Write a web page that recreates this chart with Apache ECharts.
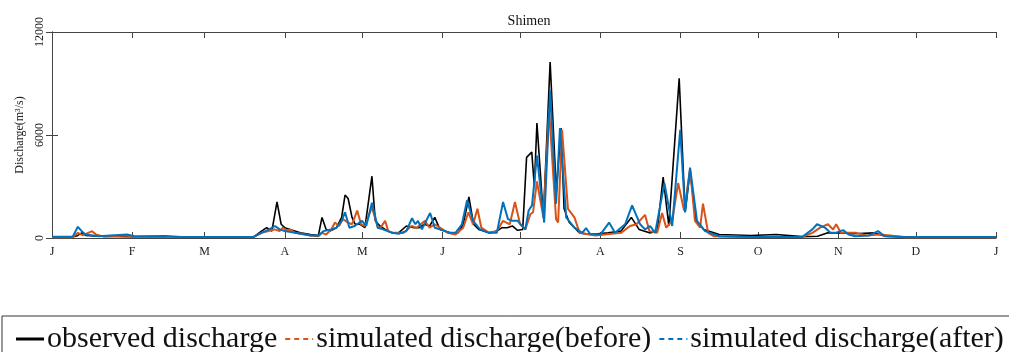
<!DOCTYPE html>
<html>
<head>
<meta charset="utf-8">
<script src="https://cdn.jsdelivr.net/npm/echarts@6/dist/echarts.min.js"></script>
<style>
    html, body { margin: 0; padding: 0; background: #fff; }
    #chart { width: 1009px; height: 352px; }
</style>
</head>
<body>
<div id="chart"></div>
<script>
    // month starts (day of year) and their labels
    var monthDays = [0, 31, 59, 90, 120, 151, 181, 212, 243, 273, 304, 334, 365];
    var monthLabels = ['J', 'F', 'M', 'A', 'M', 'J', 'J', 'A', 'S', 'O', 'N', 'D', 'J'];
    var yTicks = [0, 6000, 12000];

    // [day, discharge]
    var observed = [[0,60],[8,60],[10,150],[11.5,300],[13,150],[18,100],[30,80],[60,60],[78,70],[81,400],[83,600],[85,400],[87,2100],[88.6,800],[90,600],[92,500],[96,300],[100,200],[103,150],[104.4,1200],[106,500],[107.5,400],[110,600],[112,1200],[113.3,2500],[114.5,2300],[116,1200],[117.2,800],[119.1,800],[121,600],[123.7,3600],[125,1000],[126.8,700],[128.8,500],[131.5,300],[134,300],[137,700],[140,600],[142,600],[144,800],[146,700],[148,1200],[150,500],[154,300],[157,300],[159,800],[161.2,2400],[163,800],[165,500],[169,300],[172,400],[174,600],[176,600],[178,700],[180,450],[182,500],[183.5,4700],[185.5,5000],[186.5,3000],[187.5,6700],[190,1200],[192.6,10250],[195,2700],[196.8,6400],[198,1700],[200,900],[204,300],[208,200],[215,300],[220,400],[224,1200],[227,500],[231,300],[234,400],[236.3,3550],[238.5,700],[242.5,9300],[244.8,1500],[246.7,3900],[249,1000],[252,500],[258,200],[270,150],[280,200],[290,80],[296,100],[300,300],[305,300],[310,250],[318,300],[322,100],[330,60],[365,60]];

    var simBefore = [[0,50],[8,50],[10,300],[12,150],[14,300],[15.5,400],[17,200],[20,80],[29,150],[31,80],[45,60],[78,60],[81,300],[86,500],[88,400],[89.3,600],[91,400],[92,500],[94,300],[100,150],[103,100],[104.4,300],[106,200],[108,500],[109.4,900],[111,700],[112.5,1100],[114.5,900],[116,800],[118,1600],[119.5,800],[121,700],[123.7,1800],[126,600],[127,600],[128.8,1000],[130,400],[132,300],[136,300],[139,700],[141,600],[144.2,1000],[146,600],[148,800],[150,600],[153,300],[156,200],[159,600],[161,1500],[162.8,800],[164.5,1700],[166,600],[169,300],[172,400],[174.4,1000],[177,800],[179,2100],[181,800],[183,500],[185,1400],[186,1500],[187.5,3300],[190,1200],[192.2,7500],[194.9,1100],[195.7,900],[197.2,6300],[199.5,1700],[202,1200],[204,300],[210,150],[220,300],[223.5,700],[226,800],[229.3,1350],[231,400],[234,300],[235.9,1450],[237.5,600],[239.8,1000],[242.1,3200],[244.4,1600],[246.7,4000],[248.6,1000],[250.6,600],[251.7,2000],[253.7,300],[256,100],[270,60],[290,60],[294,300],[297,600],[300,800],[302,500],[303.2,800],[305,300],[308,300],[311,300],[315,150],[320,200],[324,150],[330,50],[365,50]];

    var simAfter = [[0,80],[8,80],[10,650],[11.5,400],[13,200],[18,100],[29,200],[32,100],[44,120],[50,60],[78,60],[81,300],[84,500],[86.2,700],[88,500],[90,400],[94,300],[100,150],[103,150],[105,400],[108,500],[110,600],[112,1000],[113.3,1500],[115,600],[117,700],[119.9,1000],[121.5,700],[123.7,2050],[126,600],[128,500],[131.5,300],[134,250],[137,400],[139.2,1150],[140.5,800],[141.5,1000],[143,500],[146.2,1460],[148,600],[150,500],[154,300],[156,300],[158.5,800],[160.5,2200],[162.8,1000],[165.5,500],[169,300],[172,300],[174.4,2100],[176.3,1100],[178,1000],[180,1000],[183,500],[184.3,1600],[185.6,1900],[187.5,4800],[190.3,900],[192.6,8600],[194.9,2000],[196.4,6400],[198.8,1200],[202,600],[205,300],[206.5,580],[208,250],[212,200],[215.4,900],[217.7,300],[221.6,800],[224.3,1900],[227.4,800],[229.3,500],[231.3,700],[233.2,300],[236.8,3200],[239.8,700],[242.9,6300],[244.8,1500],[246.7,4100],[249.4,1000],[252.5,400],[258,100],[270,60],[290,60],[294,500],[295.8,800],[298.9,600],[301,300],[303,300],[305.9,460],[308,200],[310.5,100],[316,150],[319.4,400],[322,100],[330,60],[365,60]];

    var serif = '"Liberation Serif", "DejaVu Serif", serif';
    var axisColor = '#444';
    var solidIcon = 'path://M0,0h28v3h-28z';
    var dashIcon = 'path://M0,0h5v2h-5zM9,0h5v2h-5zM18,0h5v2h-5zM27,0h1v2h-1z';

    var chart = echarts.init(document.getElementById('chart'));

    function xAxisDef(pos) {
        return {
            type: 'value',
            position: pos,
            min: 0,
            max: 365,
            axisLine: { show: true, onZero: false, lineStyle: { color: axisColor, width: 1 } },
            axisTick: { show: true, inside: true, length: 6, customValues: monthDays, lineStyle: { color: axisColor } },
            axisLabel: {
                show: pos === 'bottom',
                customValues: monthDays,
                margin: 8,
                color: '#222',
                fontFamily: serif,
                fontSize: 12,
                formatter: function (v) {
                    var i = monthDays.indexOf(v);
                    return i >= 0 ? monthLabels[i] : '';
                }
            },
            splitLine: { show: false }
        };
    }

    function yAxisDef(pos) {
        return {
            type: 'value',
            position: pos,
            min: 0,
            max: 12000,
            interval: 6000,
            name: pos === 'left' ? 'Discharge(m³/s)' : '',
            nameLocation: 'middle',
            nameGap: 25,
            nameRotate: 90,
            nameTextStyle: { color: '#222', fontFamily: serif, fontSize: 12 },
            axisLine: { show: true, lineStyle: { color: axisColor, width: 1 } },
            axisTick: { show: true, inside: true, length: 6, lineStyle: { color: axisColor } },
            axisLabel: {
                show: pos === 'left',
                rotate: 90,
                margin: 6,
                color: '#222',
                fontFamily: serif,
                fontSize: 12,
                formatter: function (v) { return String(v); }
            },
            splitLine: { show: false }
        };
    }

    var option = {
        backgroundColor: '#fff',
        animation: false,
        title: {
            text: 'Shimen',
            left: 524,
            top: 9,
            textAlign: 'center',
            textStyle: { fontFamily: serif, fontSize: 14, fontWeight: 'normal', color: '#111' }
        },
        grid: { left: 52, right: 13, top: 32, bottom: 114 },
        xAxis: [xAxisDef('bottom'), xAxisDef('top')],
        yAxis: [yAxisDef('left'), yAxisDef('right')],
        legend: {
            left: 2,
            top: 316,
            width: 1400,
            orient: 'horizontal',
            padding: [8, 6, 6, 14],
            itemGap: 8,
            itemWidth: 28,
            itemHeight: 14,
            borderColor: '#333',
            borderWidth: 1,
            textStyle: { fontFamily: serif, fontSize: 30, color: '#111', padding: [0, 0, 0, -2] },
            data: [
                { name: 'observed discharge', icon: solidIcon, itemStyle: { color: '#000' } },
                { name: 'simulated discharge(before)', icon: dashIcon, itemStyle: { color: '#D95319' } },
                { name: 'simulated discharge(after)', icon: dashIcon, itemStyle: { color: '#0072BD' } }
            ]
        },
        series: [
            {
                name: 'observed discharge',
                type: 'line',
                data: observed,
                showSymbol: false,
                symbol: 'none',
                lineStyle: { color: '#000', width: 1.6 },
                itemStyle: { color: '#000' },
                z: 2
            },
            {
                name: 'simulated discharge(before)',
                type: 'line',
                data: simBefore,
                showSymbol: false,
                symbol: 'none',
                lineStyle: { color: '#D95319', width: 2 },
                itemStyle: { color: '#D95319' },
                z: 3
            },
            {
                name: 'simulated discharge(after)',
                type: 'line',
                data: simAfter,
                showSymbol: false,
                symbol: 'none',
                lineStyle: { color: '#0072BD', width: 2 },
                itemStyle: { color: '#0072BD' },
                z: 4
            }
        ]
    };

    chart.setOption(option);
</script>
</body>
</html>
